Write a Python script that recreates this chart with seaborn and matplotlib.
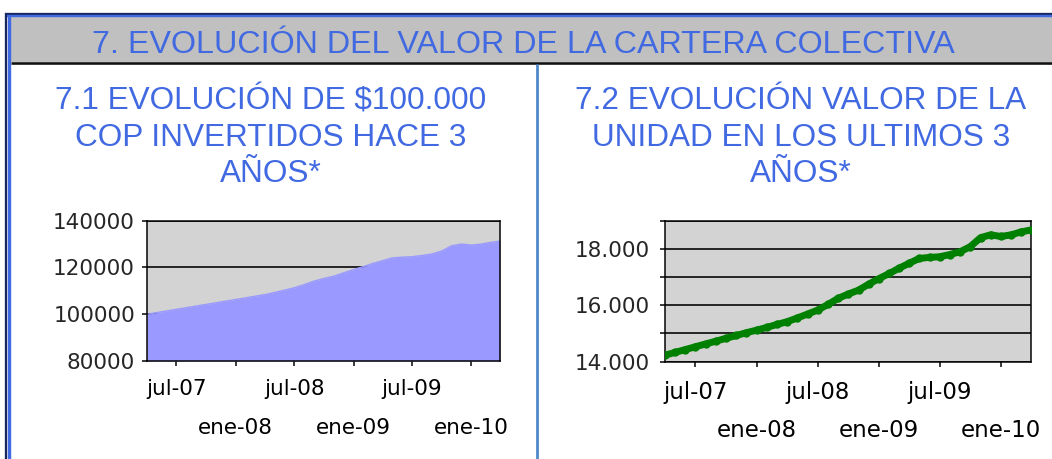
import matplotlib
matplotlib.use('Agg')
import matplotlib.pyplot as plt
from matplotlib.patches import Rectangle
from matplotlib.lines import Line2D
import pandas as pd
import seaborn as sns

# ---------------- data ----------------
fechas = list(pd.date_range('2007-04-01', periods=36, freq='MS')) + [pd.Timestamp('2010-03-31')]

inversion = [100000, 100700, 101400, 102100, 102800, 103500, 104200, 104900, 105600,
             106300, 107000, 107700, 108400, 109300, 110300, 111300, 112700, 114200,
             115300, 116300, 117700, 119100, 120400, 121700, 122900, 124100, 124400,
             124600, 125100, 125800, 127000, 129300, 130000, 129600, 130000, 130700,
             131300]

unidad = [14230, 14330, 14430, 14530, 14630, 14730, 14830, 14930, 15030,
          15120, 15220, 15320, 15420, 15550, 15690, 15830, 16030, 16250,
          16400, 16540, 16750, 16950, 17130, 17310, 17490, 17660, 17700,
          17720, 17800, 17900, 18080, 18400, 18500, 18440, 18500, 18600,
          18670]

ticks_jul = ['2007-07-01', '2008-07-01', '2009-07-01']
labels_jul = ['jul-07', 'jul-08', 'jul-09']
ticks_ene = ['2008-01-01', '2009-01-01', '2010-01-01']
labels_ene = ['ene-08', 'ene-09', 'ene-10']

yticks_left = [80000, 100000, 120000, 140000]
ylabels_left = ['80000', '100000', '120000', '140000']
yticks_right = [14000, 16000, 18000]
ylabels_right = ['14.000', '16.000', '18.000']
yticks_right_minor = [15000, 17000, 19000]

title_main = '7. EVOLUCIÓN DEL VALOR DE LA CARTERA COLECTIVA'
title_left = ['7.1 EVOLUCIÓN DE \\$100.000', 'COP INVERTIDOS HACE 3', 'AÑOS*']
title_right = ['7.2 EVOLUCIÓN VALOR DE LA', 'UNIDAD EN LOS ULTIMOS 3', 'AÑOS*']

df = pd.DataFrame({'fecha': fechas, 'inversion': inversion, 'unidad': unidad})

# ---------------- style ----------------
sns.set_style('white')
plt.rcParams['font.family'] = ['Liberation Sans', 'DejaVu Sans']

W, H = 1052, 459
fig = plt.figure(figsize=(W / 100, H / 100), dpi=100)
fig.patch.set_facecolor('white')


def fx(px):
    return px / W


def fy(py):
    return 1 - py / H


BLUE = '#4169E1'
NAVY = '#16275C'
PT = 0.72  # points per pixel

# banner
fig.patches.append(Rectangle((fx(11), fy(62)), fx(W - 11), (62 - 17) / H,
                             transform=fig.transFigure, facecolor='#C0C0C0',
                             edgecolor='none', zorder=0))
for (xs, ys, c, lw) in [
    ([5, W], [13.8, 13.8], NAVY, 2.3),
    ([6.2, 6.2], [12.7, H], NAVY, 2.3),
    ([7.3, W], [16.2, 16.2], BLUE, 2.4),
    ([9.3, 9.3], [15, H], BLUE, 3.4),
    ([11, W], [63, 63], '#111111', 2.6),
    ([537.3, 537.3], [64, H], '#4A86C8', 2.7),
]:
    fig.lines.append(Line2D([fx(x) for x in xs], [fy(y) for y in ys],
                            transform=fig.transFigure, color=c, lw=lw * PT,
                            solid_capstyle='butt'))

fig.text(fx(523.5), fy(53), title_main, ha='center', va='baseline',
         fontsize=23.2, color=BLUE)

for i, (ln_l, ln_r) in enumerate(zip(title_left, title_right)):
    yb = [109, 145.5, 182][i]
    fig.text(fx(271), fy(yb), ln_l, ha='center', va='baseline', fontsize=22.7, color=BLUE)
    fig.text(fx(801), fy(yb), ln_r, ha='center', va='baseline', fontsize=22.7, color=BLUE)

xlim = (pd.Timestamp('2007-04-01'), pd.Timestamp('2010-03-31'))
TICKFONT = 'DejaVu Sans'


def style_axes(ax, xsize, major_pad, minor_pad):
    ax.set_facecolor('#D3D3D3')
    for s in ax.spines.values():
        s.set_visible(True)
        s.set_color('black')
        s.set_linewidth(1.5 * PT)
    ax.set_xlim(*xlim)
    ax.set_xticks(pd.to_datetime(ticks_jul))
    ax.set_xticklabels(labels_jul)
    ax.set_xticks(pd.to_datetime(ticks_ene), minor=True)
    ax.set_xticklabels(labels_ene, minor=True)
    ax.tick_params(axis='x', which='both', bottom=True, direction='out',
                   length=5 * PT, width=1.5 * PT, color='black',
                   labelsize=xsize, labelcolor='black', labelfontfamily=TICKFONT)
    ax.tick_params(axis='x', which='major', pad=major_pad)
    ax.tick_params(axis='x', which='minor', pad=minor_pad)
    ax.set_xlabel('')
    ax.set_ylabel('')


# ---------------- left chart ----------------
axL = fig.add_axes([fx(147), fy(361), fx(500 - 147), (361 - 220.7) / H])
axL.fill_between(df['fecha'], df['inversion'], 80000, color='#9999FF', lw=0, zorder=2)
sns.lineplot(data=df, x='fecha', y='inversion', ax=axL, color='#9999FF', lw=1, zorder=2)
style_axes(axL, 15.5, 9.5, 37.5)
axL.set_ylim(80000, 140000)
axL.set_yticks(yticks_left)
axL.set_yticklabels(ylabels_left)
axL.yaxis.grid(True, color='black', lw=1.6 * PT)
axL.set_axisbelow(True)
axL.tick_params(axis='y', left=True, direction='out', length=5 * PT, width=1.5 * PT,
                color='black', labelsize=15.5, pad=5, labelfontfamily=TICKFONT)

# ---------------- right chart ----------------
axR = fig.add_axes([fx(665), fy(361.7), fx(1030.7 - 665), (361.7 - 220.7) / H])
sns.lineplot(data=df, x='fecha', y='unidad', ax=axR, color='#008000', lw=5,
             marker='o', markersize=6, markeredgewidth=0, zorder=3)
style_axes(axR, 16.5, 10, 38)
axR.set_ylim(14000, 19000)
axR.set_yticks(yticks_right)
axR.set_yticklabels(ylabels_right)
axR.set_yticks(yticks_right_minor, minor=True)
axR.yaxis.grid(True, which='both', color='black', lw=1.6 * PT)
axR.set_axisbelow(True)
axR.tick_params(axis='y', which='both', left=True, direction='out', length=5 * PT,
                width=1.5 * PT, color='black', labelsize=15.5, pad=7,
                labelfontfamily=TICKFONT)

fig.savefig('out.png', dpi=100)
